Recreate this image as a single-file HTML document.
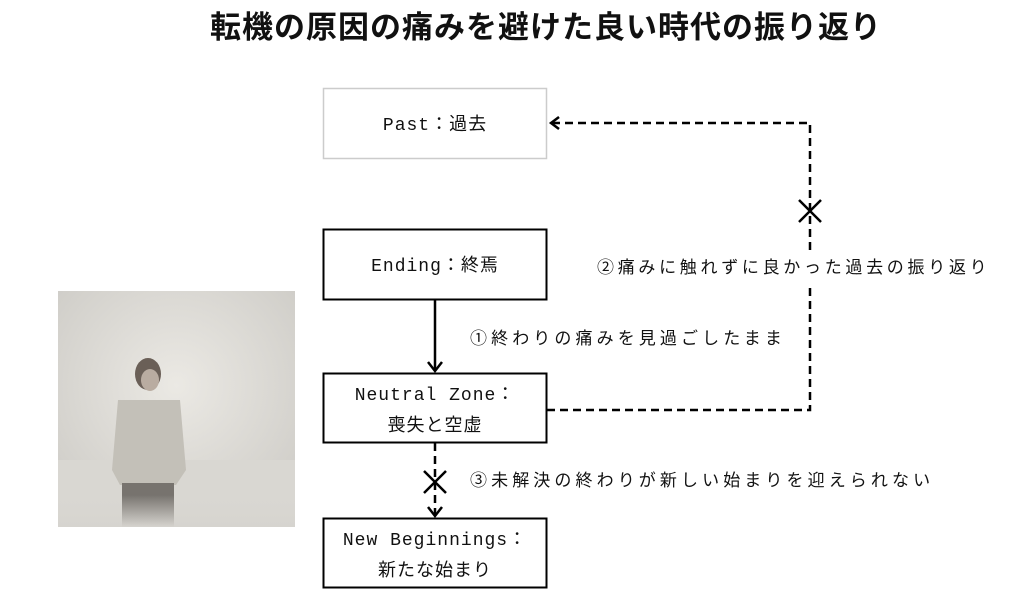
<!DOCTYPE html>
<html><head><meta charset="utf-8"><style>
body{margin:0;background:#fff;width:1024px;height:615px;overflow:hidden}
svg{display:block}
text{font-family:"Liberation Sans","Noto Sans CJK JP",sans-serif;fill:#111}
.b{font-family:"Liberation Mono","Noto Sans CJK JP",monospace;font-size:18px;letter-spacing:1px}
.l{font-size:17px}
</style></head><body>
<svg width="1024" height="615" viewBox="0 0 1024 615">
<defs>
<radialGradient id="fog" cx="0.5" cy="0.4" r="0.8">
<stop offset="0" stop-color="#ebe9e4"/><stop offset="1" stop-color="#c9c7c2"/>
</radialGradient>
<linearGradient id="low" x1="0" y1="0" x2="0" y2="1">
<stop offset="0" stop-color="#d8d6d1" stop-opacity="0"/><stop offset="1" stop-color="#d6d4cf"/>
</linearGradient>
</defs>
<text x="546" y="38" text-anchor="middle" font-size="31" font-weight="bold" letter-spacing="1">転機の原因の痛みを避けた良い時代の振り返り</text>
<!-- image -->
<rect x="58" y="291" width="237" height="236" fill="url(#fog)"/>
<rect x="58" y="460" width="237" height="67" fill="#d9d7d2"/>
<ellipse cx="148" cy="374" rx="13" ry="16" fill="#6a5f57"/>
<ellipse cx="150" cy="380" rx="9" ry="11" fill="#b9aca1"/>
<path d="M118 400 L180 400 L186 470 L176 485 L120 485 L112 470 Z" fill="#c3c0b8"/>
<rect x="122" y="483" width="52" height="44" fill="#77736e"/>
<rect x="58" y="495" width="237" height="32" fill="url(#low)"/>
<!-- boxes -->
<rect x="323.5" y="88.5" width="223" height="70" fill="#fff" stroke="#ccc" stroke-width="1.5"/>
<text class="b" x="435" y="130" text-anchor="middle">Past：過去</text>
<rect x="323.5" y="229.5" width="223" height="70" fill="#fff" stroke="#000" stroke-width="2"/>
<text class="b" x="435" y="271" text-anchor="middle">Ending：終焉</text>
<rect x="323.5" y="373.5" width="223" height="69" fill="#fff" stroke="#000" stroke-width="2"/>
<text class="b" x="435" y="400" text-anchor="middle">Neutral Zone：</text>
<text class="b" x="435" y="431" text-anchor="middle">喪失と空虚</text>
<rect x="323.5" y="518.5" width="223" height="69" fill="#fff" stroke="#000" stroke-width="2"/>
<text class="b" x="435" y="545" text-anchor="middle">New Beginnings：</text>
<text class="b" x="435" y="576" text-anchor="middle">新たな始まり</text>
<!-- arrow 1 -->
<line x1="435" y1="300" x2="435" y2="370" stroke="#000" stroke-width="2.5"/>
<path d="M428 362 L435 371 L442 362" fill="none" stroke="#000" stroke-width="2.5"/>
<text class="l" x="470" y="344" letter-spacing="4.1">①終わりの痛みを見過ごしたまま</text>
<!-- dashed loop -->
<path d="M547 410 L810 410 L810 287 M810 250 L810 123 L552 123" fill="none" stroke="#000" stroke-width="2.5" stroke-dasharray="8,5"/>
<path d="M559 117 L551 123 L559 129" fill="none" stroke="#000" stroke-width="2.5"/>
<path d="M799 200 L821 222 M821 200 L799 222" stroke="#000" stroke-width="2.5"/>
<text class="l" x="597" y="273" letter-spacing="3.7">②痛みに触れずに良かった過去の振り返り</text>
<!-- arrow 3 -->
<line x1="435" y1="443" x2="435" y2="514" stroke="#000" stroke-width="2.5" stroke-dasharray="8,5"/>
<path d="M428 507 L435 516 L442 507" fill="none" stroke="#000" stroke-width="2.5"/>
<path d="M424 471 L446 493 M446 471 L424 493" stroke="#000" stroke-width="2.5"/>
<text class="l" x="470" y="486" letter-spacing="4.1">③未解決の終わりが新しい始まりを迎えられない</text>
</svg>
</body></html>
